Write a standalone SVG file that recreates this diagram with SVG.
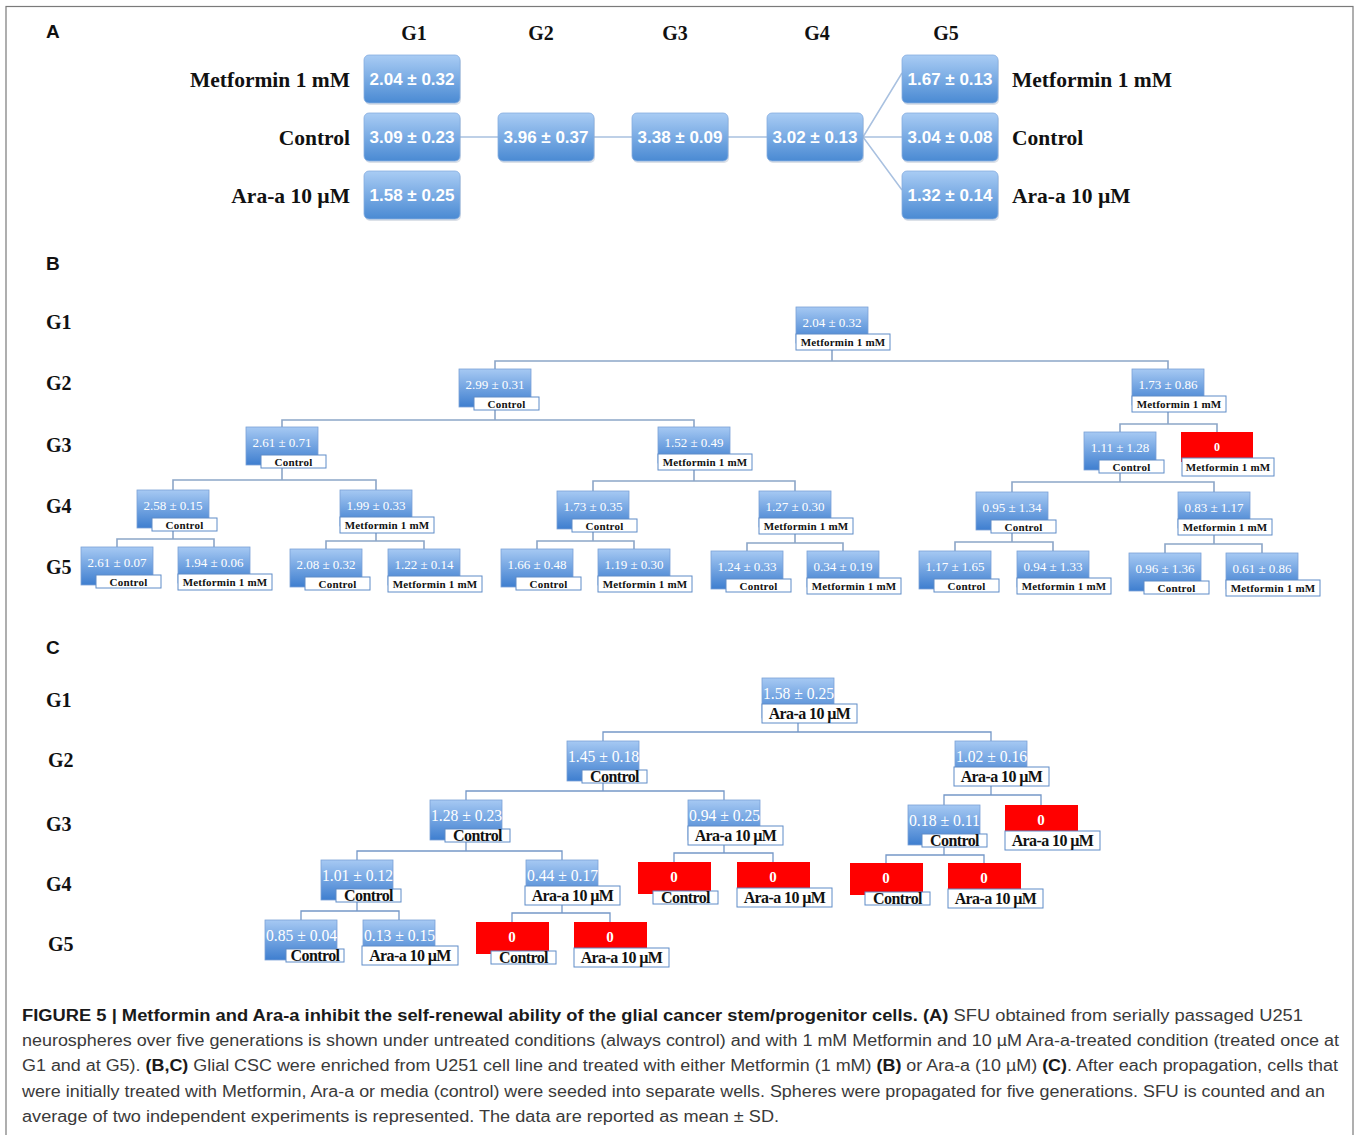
<svg xmlns="http://www.w3.org/2000/svg" width="1358" height="1135" viewBox="0 0 1358 1135">
<defs>
<linearGradient id="gA" x1="0" y1="0" x2="0" y2="1"><stop offset="0" stop-color="#a9ccf4"/><stop offset="1" stop-color="#4a8ad3"/></linearGradient>
<linearGradient id="gB" x1="0" y1="0" x2="0" y2="1"><stop offset="0" stop-color="#a6c9f3"/><stop offset="1" stop-color="#3e7ecf"/></linearGradient>
</defs>
<style>
.frame{fill:none;stroke:#7a7a7a;stroke-width:1.2}
.pl{font-family:"Liberation Sans",Arial,sans-serif;font-weight:bold;font-size:19px;fill:#111}
.gh{font-family:"Liberation Serif","Times New Roman",serif;font-weight:bold;font-size:20px;fill:#111}
.al{font-family:"Liberation Serif","Times New Roman",serif;font-weight:bold;font-size:21.5px;fill:#111}
.abox{fill:url(#gA);stroke:#86ade0;stroke-width:0.8}
.ash{fill:#9aa9bd;opacity:0.35}
.av{font-family:"Liberation Sans",Arial,sans-serif;font-weight:bold;font-size:17px;fill:#fff;text-anchor:middle}
.acon{stroke:#a9c1e0;stroke-width:1.5;fill:none}
.bb{fill:url(#gB);stroke:#7aa1d6;stroke-width:0.8}
.rb{fill:#ff0000}
.lb{fill:#fff;stroke:#5f8cc8;stroke-width:1}
.bv{font-family:"Liberation Serif","Times New Roman",serif;font-size:13px;fill:#fff;text-anchor:middle}
.bl{font-family:"Liberation Serif","Times New Roman",serif;font-weight:bold;font-size:11px;fill:#111;text-anchor:middle;letter-spacing:0.2px}
.bz{font-family:"Liberation Serif","Times New Roman",serif;font-weight:bold;font-size:12px;fill:#fff;text-anchor:middle}
.bcon{stroke:#8ca6c8;stroke-width:1.6;fill:none}
.cv{font-family:"Liberation Serif","Times New Roman",serif;font-size:16.5px;fill:#fff}
.cl{font-family:"Liberation Serif","Times New Roman",serif;font-weight:bold;font-size:16px;fill:#111;text-anchor:middle;letter-spacing:-0.6px}
.cz{font-family:"Liberation Serif","Times New Roman",serif;font-weight:bold;font-size:15px;fill:#fff;text-anchor:middle}
.ccon{stroke:#7598c8;stroke-width:1.3;fill:none}
.cap{font-family:"Liberation Sans",Arial,sans-serif;font-size:16px;fill:#3a3a3a}
.capb{font-weight:bold;fill:#1a1a1a}
</style>
<rect class="frame" x="6" y="6.5" width="1347" height="1140"/>

<!-- Panel A -->
<g id="panelA">
<text class="pl" x="46" y="38">A</text>
<g id="A-headers">
<text class="gh" x="414" y="40" text-anchor="middle">G1</text>
<text class="gh" x="541" y="40" text-anchor="middle">G2</text>
<text class="gh" x="675" y="40" text-anchor="middle">G3</text>
<text class="gh" x="817" y="40" text-anchor="middle">G4</text>
<text class="gh" x="946" y="40" text-anchor="middle">G5</text>
</g>
<g id="A-labels">
<text class="al" x="350" y="87" text-anchor="end">Metformin 1 mM</text>
<text class="al" x="350" y="145" text-anchor="end">Control</text>
<text class="al" x="350" y="203" text-anchor="end">Ara-a 10 µM</text>
<text class="al" x="1012" y="87">Metformin 1 mM</text>
<text class="al" x="1012" y="145">Control</text>
<text class="al" x="1012" y="203">Ara-a 10 µM</text>
</g>
<g id="A-connectors">
<path class="acon" d="M460 137H498 M594 137H632 M728 137H767 M863 137L902 73 M863 137H902 M863 137L902 190"/>
</g>
<g id="A-g1-met"><rect class="ash" x="365" y="57" width="96" height="48" rx="5"/><rect class="abox" x="364" y="55" width="96" height="48" rx="5"/><text class="av" x="412" y="85">2.04 ± 0.32</text></g>
<g id="A-g1-ctl"><rect class="ash" x="365" y="115" width="96" height="48" rx="5"/><rect class="abox" x="364" y="113" width="96" height="48" rx="5"/><text class="av" x="412" y="143">3.09 ± 0.23</text></g>
<g id="A-g1-ara"><rect class="ash" x="365" y="173" width="96" height="48" rx="5"/><rect class="abox" x="364" y="171" width="96" height="48" rx="5"/><text class="av" x="412" y="201">1.58 ± 0.25</text></g>
<g id="A-g2-ctl"><rect class="ash" x="499" y="115" width="96" height="48" rx="5"/><rect class="abox" x="498" y="113" width="96" height="48" rx="5"/><text class="av" x="546" y="143">3.96 ± 0.37</text></g>
<g id="A-g3-ctl"><rect class="ash" x="633" y="115" width="96" height="48" rx="5"/><rect class="abox" x="632" y="113" width="96" height="48" rx="5"/><text class="av" x="680" y="143">3.38 ± 0.09</text></g>
<g id="A-g4-ctl"><rect class="ash" x="768" y="115" width="96" height="48" rx="5"/><rect class="abox" x="767" y="113" width="96" height="48" rx="5"/><text class="av" x="815" y="143">3.02 ± 0.13</text></g>
<g id="A-g5-met"><rect class="ash" x="903" y="57" width="96" height="48" rx="5"/><rect class="abox" x="902" y="55" width="96" height="48" rx="5"/><text class="av" x="950" y="85">1.67 ± 0.13</text></g>
<g id="A-g5-ctl"><rect class="ash" x="903" y="115" width="96" height="48" rx="5"/><rect class="abox" x="902" y="113" width="96" height="48" rx="5"/><text class="av" x="950" y="143">3.04 ± 0.08</text></g>
<g id="A-g5-ara"><rect class="ash" x="903" y="173" width="96" height="48" rx="5"/><rect class="abox" x="902" y="171" width="96" height="48" rx="5"/><text class="av" x="950" y="201">1.32 ± 0.14</text></g>
</g>

<!-- Panel B -->
<g id="panelB">
<text class="pl" x="46" y="270">B</text>
<g id="B-rows">
<text class="gh" x="46" y="329">G1</text>
<text class="gh" x="46" y="390">G2</text>
<text class="gh" x="46" y="452">G3</text>
<text class="gh" x="46" y="513">G4</text>
<text class="gh" x="46" y="574">G5</text>
</g>
<g id="B-connectors">
<path class="bcon" d="M832 350V361 M495 369V361H1168V369"/>
<path class="bcon" d="M495 410V420 M282 427V420H694V427"/>
<path class="bcon" d="M1168 412V424 M1120 432V424H1217V432"/>
<path class="bcon" d="M282 468V480 M173 490V480H376V490"/>
<path class="bcon" d="M694 470V481 M593 491V481H795V491"/>
<path class="bcon" d="M1120 473V482 M1012 492V482H1214V492"/>
<path class="bcon" d="M173 531V539 M117 547V539H214V547"/>
<path class="bcon" d="M376 533V541 M326 549V541H424V549"/>
<path class="bcon" d="M593 532V541 M537 549V541H634V549"/>
<path class="bcon" d="M795 534V543 M747 551V543H843V551"/>
<path class="bcon" d="M1012 533V542 M955 551V542H1053V551"/>
<path class="bcon" d="M1214 535V544 M1165 553V544H1262V553"/>
</g>
<g id="B-g1"><rect class="bb" x="796" y="307" width="72" height="36"/><text class="bv" x="832" y="327">2.04 ± 0.32</text><rect class="lb" x="796" y="334" width="94" height="16"/><text class="bl" x="843" y="346">Metformin 1 mM</text></g>
<g id="B-g2-ctl"><rect class="bb" x="459" y="369" width="72" height="38"/><text class="bv" x="495" y="389">2.99 ± 0.31</text><rect class="lb" x="474" y="397" width="65" height="13"/><text class="bl" x="506.5" y="407.5">Control</text></g>
<g id="B-g2-met"><rect class="bb" x="1132" y="369" width="72" height="36"/><text class="bv" x="1168" y="389">1.73 ± 0.86</text><rect class="lb" x="1132" y="396" width="94" height="16"/><text class="bl" x="1179" y="408">Metformin 1 mM</text></g>
<g id="B-g3-ctl"><rect class="bb" x="246" y="427" width="72" height="38"/><text class="bv" x="282" y="447">2.61 ± 0.71</text><rect class="lb" x="261" y="455" width="65" height="13"/><text class="bl" x="293.5" y="465.5">Control</text></g>
<g id="B-g3-met"><rect class="bb" x="658" y="427" width="72" height="36"/><text class="bv" x="694" y="447">1.52 ± 0.49</text><rect class="lb" x="658" y="454" width="94" height="16"/><text class="bl" x="705" y="466">Metformin 1 mM</text></g>
<g id="B-g3-ctl2"><rect class="bb" x="1084" y="432" width="72" height="38"/><text class="bv" x="1120" y="452">1.11 ± 1.28</text><rect class="lb" x="1099" y="460" width="65" height="13"/><text class="bl" x="1131.5" y="470.5">Control</text></g>
<g id="B-g3-met2"><rect class="rb" x="1181" y="432" width="72" height="30"/><text class="bz" x="1217" y="451">0</text><rect class="lb" x="1182" y="458" width="92" height="18"/><text class="bl" x="1228" y="471">Metformin 1 mM</text></g>
<g id="B-g4-1"><rect class="bb" x="137" y="490" width="72" height="38"/><text class="bv" x="173" y="510">2.58 ± 0.15</text><rect class="lb" x="152" y="518" width="65" height="13"/><text class="bl" x="184.5" y="528.5">Control</text></g>
<g id="B-g4-2"><rect class="bb" x="340" y="490" width="72" height="36"/><text class="bv" x="376" y="510">1.99 ± 0.33</text><rect class="lb" x="340" y="517" width="94" height="16"/><text class="bl" x="387" y="529">Metformin 1 mM</text></g>
<g id="B-g4-3"><rect class="bb" x="557" y="491" width="72" height="38"/><text class="bv" x="593" y="511">1.73 ± 0.35</text><rect class="lb" x="572" y="519" width="65" height="13"/><text class="bl" x="604.5" y="529.5">Control</text></g>
<g id="B-g4-4"><rect class="bb" x="759" y="491" width="72" height="36"/><text class="bv" x="795" y="511">1.27 ± 0.30</text><rect class="lb" x="759" y="518" width="94" height="16"/><text class="bl" x="806" y="530">Metformin 1 mM</text></g>
<g id="B-g4-5"><rect class="bb" x="976" y="492" width="72" height="38"/><text class="bv" x="1012" y="512">0.95 ± 1.34</text><rect class="lb" x="991" y="520" width="65" height="13"/><text class="bl" x="1023.5" y="530.5">Control</text></g>
<g id="B-g4-6"><rect class="bb" x="1178" y="492" width="72" height="36"/><text class="bv" x="1214" y="512">0.83 ± 1.17</text><rect class="lb" x="1178" y="519" width="94" height="16"/><text class="bl" x="1225" y="531">Metformin 1 mM</text></g>
<g id="B-g5-1"><rect class="bb" x="81" y="547" width="72" height="38"/><text class="bv" x="117" y="567">2.61 ± 0.07</text><rect class="lb" x="96" y="575" width="65" height="13"/><text class="bl" x="128.5" y="585.5">Control</text></g>
<g id="B-g5-2"><rect class="bb" x="178" y="547" width="72" height="36"/><text class="bv" x="214" y="567">1.94 ± 0.06</text><rect class="lb" x="178" y="574" width="94" height="16"/><text class="bl" x="225" y="586">Metformin 1 mM</text></g>
<g id="B-g5-3"><rect class="bb" x="290" y="549" width="72" height="38"/><text class="bv" x="326" y="569">2.08 ± 0.32</text><rect class="lb" x="305" y="577" width="65" height="13"/><text class="bl" x="337.5" y="587.5">Control</text></g>
<g id="B-g5-4"><rect class="bb" x="388" y="549" width="72" height="36"/><text class="bv" x="424" y="569">1.22 ± 0.14</text><rect class="lb" x="388" y="576" width="94" height="16"/><text class="bl" x="435" y="588">Metformin 1 mM</text></g>
<g id="B-g5-5"><rect class="bb" x="501" y="549" width="72" height="38"/><text class="bv" x="537" y="569">1.66 ± 0.48</text><rect class="lb" x="516" y="577" width="65" height="13"/><text class="bl" x="548.5" y="587.5">Control</text></g>
<g id="B-g5-6"><rect class="bb" x="598" y="549" width="72" height="36"/><text class="bv" x="634" y="569">1.19 ± 0.30</text><rect class="lb" x="598" y="576" width="94" height="16"/><text class="bl" x="645" y="588">Metformin 1 mM</text></g>
<g id="B-g5-7"><rect class="bb" x="711" y="551" width="72" height="38"/><text class="bv" x="747" y="571">1.24 ± 0.33</text><rect class="lb" x="726" y="579" width="65" height="13"/><text class="bl" x="758.5" y="589.5">Control</text></g>
<g id="B-g5-8"><rect class="bb" x="807" y="551" width="72" height="36"/><text class="bv" x="843" y="571">0.34 ± 0.19</text><rect class="lb" x="807" y="578" width="94" height="16"/><text class="bl" x="854" y="590">Metformin 1 mM</text></g>
<g id="B-g5-9"><rect class="bb" x="919" y="551" width="72" height="38"/><text class="bv" x="955" y="571">1.17 ± 1.65</text><rect class="lb" x="934" y="579" width="65" height="13"/><text class="bl" x="966.5" y="589.5">Control</text></g>
<g id="B-g5-10"><rect class="bb" x="1017" y="551" width="72" height="36"/><text class="bv" x="1053" y="571">0.94 ± 1.33</text><rect class="lb" x="1017" y="578" width="94" height="16"/><text class="bl" x="1064" y="590">Metformin 1 mM</text></g>
<g id="B-g5-11"><rect class="bb" x="1129" y="553" width="72" height="38"/><text class="bv" x="1165" y="573">0.96 ± 1.36</text><rect class="lb" x="1144" y="581" width="65" height="13"/><text class="bl" x="1176.5" y="591.5">Control</text></g>
<g id="B-g5-12"><rect class="bb" x="1226" y="553" width="72" height="36"/><text class="bv" x="1262" y="573">0.61 ± 0.86</text><rect class="lb" x="1226" y="580" width="94" height="16"/><text class="bl" x="1273" y="592">Metformin 1 mM</text></g>
</g>

<!-- Panel C -->
<g id="panelC">
<text class="pl" x="46" y="654">C</text>
<g id="C-rows">
<text class="gh" x="46" y="707">G1</text>
<text class="gh" x="48" y="767">G2</text>
<text class="gh" x="46" y="831">G3</text>
<text class="gh" x="46" y="891">G4</text>
<text class="gh" x="48" y="951">G5</text>
</g>
<g id="C-connectors">
<path class="ccon" d="M798 723V732 M603 741V732H991V741"/>
<path class="ccon" d="M603 783V791 M466 800V791H724V800"/>
<path class="ccon" d="M991 786V795 M944 805V795H1041V805"/>
<path class="ccon" d="M466 842V851 M357 860V851H562V860"/>
<path class="ccon" d="M724 845V853 M674 862V853H773V862"/>
<path class="ccon" d="M944 847V855 M886 863V855H984V863"/>
<path class="ccon" d="M357 902V911 M301 920V911H399V920"/>
<path class="ccon" d="M562 905V913 M512 922V913H610V922"/>
</g>
<g id="C-g1"><rect class="bb" x="762" y="678" width="72" height="40"/><text class="cv" x="763" y="699" textLength="71" lengthAdjust="spacingAndGlyphs">1.58 ± 0.25</text><rect class="lb" x="762" y="704" width="95" height="19"/><text class="cl" x="809.5" y="719">Ara-a 10 µM</text></g>
<g id="C-g2-ctl"><rect class="bb" x="567" y="741" width="72" height="40"/><text class="cv" x="568" y="762" textLength="71" lengthAdjust="spacingAndGlyphs">1.45 ± 0.18</text><rect class="lb" x="582" y="770" width="65" height="13"/><text class="cl" x="614.5" y="781.5">Control</text></g>
<g id="C-g2-ara"><rect class="bb" x="955" y="741" width="72" height="40"/><text class="cv" x="956" y="762" textLength="71" lengthAdjust="spacingAndGlyphs">1.02 ± 0.16</text><rect class="lb" x="954" y="767" width="95" height="19"/><text class="cl" x="1001.5" y="782">Ara-a 10 µM</text></g>
<g id="C-g3-1"><rect class="bb" x="430" y="800" width="72" height="40"/><text class="cv" x="431" y="821" textLength="71" lengthAdjust="spacingAndGlyphs">1.28 ± 0.23</text><rect class="lb" x="445" y="829" width="65" height="13"/><text class="cl" x="477.5" y="840.5">Control</text></g>
<g id="C-g3-2"><rect class="bb" x="688" y="800" width="72" height="40"/><text class="cv" x="689" y="821" textLength="71" lengthAdjust="spacingAndGlyphs">0.94 ± 0.25</text><rect class="lb" x="688" y="826" width="95" height="19"/><text class="cl" x="735.5" y="841">Ara-a 10 µM</text></g>
<g id="C-g3-3"><rect class="bb" x="908" y="805" width="72" height="40"/><text class="cv" x="909" y="826" textLength="71" lengthAdjust="spacingAndGlyphs">0.18 ± 0.11</text><rect class="lb" x="922" y="834" width="65" height="13"/><text class="cl" x="954.5" y="845.5">Control</text></g>
<g id="C-g3-4"><rect class="rb" x="1005" y="805" width="73" height="32"/><text class="cz" x="1041" y="825">0</text><rect class="lb" x="1005" y="831" width="95" height="19"/><text class="cl" x="1052.5" y="846">Ara-a 10 µM</text></g>
<g id="C-g4-1"><rect class="bb" x="321" y="860" width="72" height="40"/><text class="cv" x="322" y="881" textLength="71" lengthAdjust="spacingAndGlyphs">1.01 ± 0.12</text><rect class="lb" x="336" y="889" width="65" height="13"/><text class="cl" x="368.5" y="900.5">Control</text></g>
<g id="C-g4-2"><rect class="bb" x="526" y="860" width="72" height="40"/><text class="cv" x="527" y="881" textLength="71" lengthAdjust="spacingAndGlyphs">0.44 ± 0.17</text><rect class="lb" x="525" y="886" width="95" height="19"/><text class="cl" x="572.5" y="901">Ara-a 10 µM</text></g>
<g id="C-g4-3"><rect class="rb" x="638" y="862" width="73" height="32"/><text class="cz" x="674" y="882">0</text><rect class="lb" x="653" y="891" width="65" height="13"/><text class="cl" x="685.5" y="902.5">Control</text></g>
<g id="C-g4-4"><rect class="rb" x="737" y="862" width="73" height="32"/><text class="cz" x="773" y="882">0</text><rect class="lb" x="737" y="888" width="95" height="19"/><text class="cl" x="784.5" y="903">Ara-a 10 µM</text></g>
<g id="C-g4-5"><rect class="rb" x="850" y="863" width="73" height="32"/><text class="cz" x="886" y="883">0</text><rect class="lb" x="865" y="892" width="65" height="13"/><text class="cl" x="897.5" y="903.5">Control</text></g>
<g id="C-g4-6"><rect class="rb" x="948" y="863" width="73" height="32"/><text class="cz" x="984" y="883">0</text><rect class="lb" x="948" y="889" width="95" height="19"/><text class="cl" x="995.5" y="904">Ara-a 10 µM</text></g>
<g id="C-g5-1"><rect class="bb" x="265" y="920" width="72" height="40"/><text class="cv" x="266" y="941" textLength="71" lengthAdjust="spacingAndGlyphs">0.85 ± 0.04</text><rect class="lb" x="286" y="949" width="58" height="13"/><text class="cl" x="315" y="960.5">Control</text></g>
<g id="C-g5-2"><rect class="bb" x="363" y="920" width="72" height="40"/><text class="cv" x="364" y="941" textLength="71" lengthAdjust="spacingAndGlyphs">0.13 ± 0.15</text><rect class="lb" x="362" y="946" width="96" height="19"/><text class="cl" x="410" y="961">Ara-a 10 µM</text></g>
<g id="C-g5-3"><rect class="rb" x="476" y="922" width="73" height="32"/><text class="cz" x="512" y="942">0</text><rect class="lb" x="491" y="951" width="65" height="13"/><text class="cl" x="523.5" y="962.5">Control</text></g>
<g id="C-g5-4"><rect class="rb" x="574" y="922" width="73" height="32"/><text class="cz" x="610" y="942">0</text><rect class="lb" x="574" y="948" width="95" height="19"/><text class="cl" x="621.5" y="963">Ara-a 10 µM</text></g>
</g>

<!-- Caption -->
<g id="caption">
<text class="cap" x="22" y="1021" textLength="1281" lengthAdjust="spacingAndGlyphs"><tspan class="capb">FIGURE 5 | Metformin and Ara-a inhibit the self-renewal ability of the glial cancer stem/progenitor cells. (A)</tspan> SFU obtained from serially passaged U251</text>
<text class="cap" x="22" y="1046" textLength="1317" lengthAdjust="spacingAndGlyphs">neurospheres over five generations is shown under untreated conditions (always control) and with 1 mM Metformin and 10 µM Ara-a-treated condition (treated once at</text>
<text class="cap" x="22" y="1071" textLength="1316" lengthAdjust="spacingAndGlyphs">G1 and at G5). <tspan class="capb">(B,C)</tspan> Glial CSC were enriched from U251 cell line and treated with either Metformin (1 mM) <tspan class="capb">(B)</tspan> or Ara-a (10 µM) <tspan class="capb">(C)</tspan>. After each propagation, cells that</text>
<text class="cap" x="22" y="1097" textLength="1303" lengthAdjust="spacingAndGlyphs">were initially treated with Metformin, Ara-a or media (control) were seeded into separate wells. Spheres were propagated for five generations. SFU is counted and an</text>
<text class="cap" x="22" y="1122" textLength="757" lengthAdjust="spacingAndGlyphs">average of two independent experiments is represented. The data are reported as mean ± SD.</text>
</g>
</svg>
